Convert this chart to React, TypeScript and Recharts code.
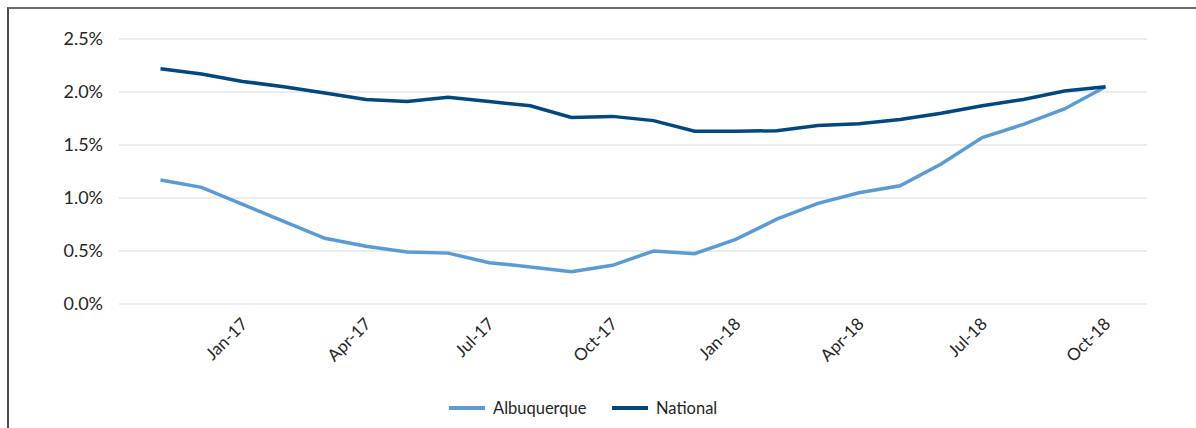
import React from "react";
import { LineChart, Line, XAxis, YAxis, CartesianGrid, Legend } from "recharts";

const months = [
  "Nov-16", "Dec-16", "Jan-17", "Feb-17", "Mar-17", "Apr-17", "May-17", "Jun-17",
  "Jul-17", "Aug-17", "Sep-17", "Oct-17", "Nov-17", "Dec-17", "Jan-18", "Feb-18",
  "Mar-18", "Apr-18", "May-18", "Jun-18", "Jul-18", "Aug-18", "Sep-18", "Oct-18",
];

const albuquerque = [
  1.17, 1.1, 0.94, 0.78, 0.62, 0.545, 0.49, 0.48, 0.39, 0.35, 0.305, 0.365,
  0.5, 0.475, 0.61, 0.8, 0.95, 1.05, 1.115, 1.32, 1.57, 1.695, 1.84, 2.05,
];

const national = [
  2.22, 2.17, 2.1, 2.05, 1.99, 1.93, 1.91, 1.95, 1.91, 1.87, 1.76, 1.77,
  1.73, 1.63, 1.63, 1.635, 1.685, 1.7, 1.74, 1.8, 1.87, 1.93, 2.01, 2.05,
];

const shownLabels = ["Jan-17", "Apr-17", "Jul-17", "Oct-17", "Jan-18", "Apr-18", "Jul-18", "Oct-18"];
const yTicks = [0, 0.5, 1, 1.5, 2, 2.5];

const LIGHT = "#5b9bd5";
const DARK = "#034780";
const FONT = "Lato, 'Open Sans', sans-serif";

const data = months.map((m, i) => ({
  month: m,
  Albuquerque: albuquerque[i],
  National: national[i],
}));

function MonthTick(props: any) {
  const { x, y, payload } = props;
  if (!shownLabels.includes(payload.value)) return <g />;
  const ax = x + 6;
  const ay = y + 13;
  return (
    <text
      x={ax}
      y={ay}
      transform={`rotate(-45, ${ax}, ${ay})`}
      textAnchor="end"
      fontSize={17}
      fontFamily={FONT}
      fill="#262626"
    >
      {payload.value}
    </text>
  );
}

function LegendBox() {
  const items = [
    { name: "Albuquerque", color: LIGHT, w: 163 },
    { name: "National", color: DARK, w: 120 },
  ];
  return (
    <div style={{ display: "flex", alignItems: "center", fontFamily: FONT, fontSize: 16.5, color: "#262626" }}>
      {items.map((it) => (
        <div key={it.name} style={{ display: "flex", alignItems: "center", width: it.w }}>
          <span style={{ display: "inline-block", width: 36, height: 4, background: it.color, marginRight: 8 }} />
          <span>{it.name}</span>
        </div>
      ))}
    </div>
  );
}

export default function App() {
  return (
    <div style={{ position: "absolute", left: 0, top: 0, width: 1196, height: 428, background: "#fff", overflow: "hidden" }}>
      <div
        style={{
          position: "absolute",
          left: 7,
          top: 7,
          width: 1200,
          height: 430,
          borderTop: "2px solid #6b6b6b",
          borderLeft: "2px solid #4a4a4a",
        }}
      />
      <div style={{ position: "absolute", left: 0, top: 0 }}>
        <LineChart
          width={1196}
          height={428}
          data={data}
          margin={{ top: 39, right: 49, bottom: 64, left: 59 }}
        >
          <CartesianGrid vertical={false} stroke="#d9d9d9" strokeWidth={1} />
          <XAxis
            dataKey="month"
            interval={0}
            tick={<MonthTick />}
            tickLine={false}
            axisLine={false}
            height={60}
            padding={{ left: 41.5, right: 41.5 }}
          />
          <YAxis
            width={60}
            domain={[0, 2.5]}
            ticks={yTicks}
            tickFormatter={(v: number) => `${v.toFixed(1)}%`}
            tickLine={false}
            axisLine={false}
            tickSize={0}
            tickMargin={16}
            tick={{ fontSize: 18, fontFamily: FONT, fill: "#262626" }}
          />
          <Legend
            verticalAlign="middle"
            align="center"
            content={<LegendBox />}
            wrapperStyle={{ position: "absolute", left: 449, top: 398, width: 340, height: 22 }}
          />
          <Line
            type="linear"
            dataKey="Albuquerque"
            stroke={LIGHT}
            strokeWidth={3.5}
            dot={false}
            isAnimationActive={false}
          />
          <Line
            type="linear"
            dataKey="National"
            stroke={DARK}
            strokeWidth={3.5}
            dot={false}
            isAnimationActive={false}
          />
        </LineChart>
      </div>
    </div>
  );
}
